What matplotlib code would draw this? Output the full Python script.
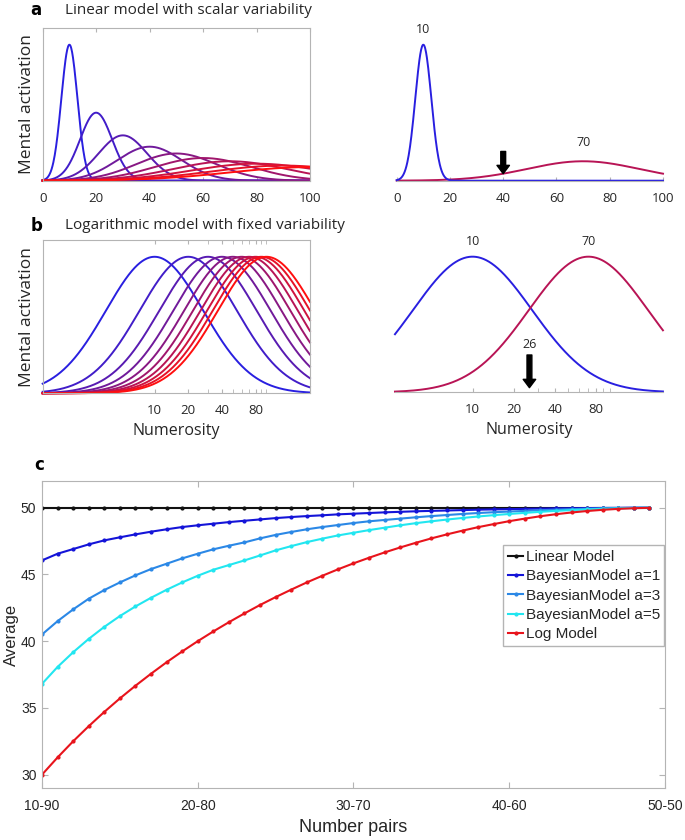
import matplotlib
matplotlib.use('Agg')
import matplotlib.pyplot as plt
import numpy as np

# ---- panels a / b : model parameters ----
numerosities = [10, 20, 30, 40, 50, 60, 70, 80, 90, 100]
weber_fraction = 0.3        # linear model, sd = w * n
log_sd = 1.0                # log model, sd in ln units
pair_shown = [10, 70]
probe_lin = 40
probe_log = 26
lin_ticks = [0, 20, 40, 60, 80, 100]
log_ticks = [10, 20, 40, 80]
log_minor = [10, 20, 30, 40, 50, 60, 70, 80, 90, 100]

# ---- panel c : average of the pair under each model ----
pair_low = list(range(10, 50))
pair_ticks = [10, 20, 30, 40, 50]
pair_labels = ['10-90', '20-80', '30-70', '40-60', '50-50']
avg_linear = [50.0] * 40
avg_bayes_a1 = [46.05, 46.55, 46.90, 47.25, 47.55, 47.78, 48.00, 48.20, 48.38, 48.55,
                48.68, 48.80, 48.92, 49.02, 49.12, 49.22, 49.30, 49.37, 49.43, 49.50,
                49.55, 49.60, 49.65, 49.69, 49.73, 49.76, 49.79, 49.82, 49.85, 49.87,
                49.89, 49.91, 49.93, 49.95, 49.96, 49.97, 49.98, 49.99, 50.00, 50.00]
avg_bayes_a3 = [40.50, 41.50, 42.38, 43.18, 43.83, 44.40, 44.93, 45.40, 45.80, 46.20,
                46.55, 46.88, 47.15, 47.40, 47.70, 47.96, 48.18, 48.38, 48.55, 48.70,
                48.85, 48.98, 49.08, 49.18, 49.28, 49.37, 49.45, 49.53, 49.60, 49.66,
                49.71, 49.76, 49.81, 49.85, 49.89, 49.92, 49.95, 49.97, 49.99, 50.00]
avg_bayes_a5 = [36.80, 38.07, 39.17, 40.17, 41.07, 41.88, 42.60, 43.25, 43.85, 44.40,
                44.90, 45.35, 45.70, 46.05, 46.42, 46.80, 47.12, 47.42, 47.68, 47.92,
                48.12, 48.32, 48.50, 48.68, 48.84, 48.98, 49.11, 49.23, 49.34, 49.44,
                49.53, 49.61, 49.69, 49.76, 49.82, 49.87, 49.92, 49.95, 49.98, 50.00]
avg_log = [30.00, 31.29, 32.50, 33.63, 34.70, 35.71, 36.66, 37.56, 38.42, 39.23,
           40.00, 40.73, 41.42, 42.08, 42.71, 43.30, 43.86, 44.40, 44.90, 45.38,
           45.83, 46.25, 46.65, 47.02, 47.37, 47.70, 48.00, 48.28, 48.54, 48.77,
           48.99, 49.18, 49.36, 49.51, 49.64, 49.75, 49.84, 49.91, 49.96, 49.99]

series_c = [('Linear Model', avg_linear, '#111111'),
            ('BayesianModel a=1', avg_bayes_a1, '#1414d8'),
            ('BayesianModel a=3', avg_bayes_a3, '#2b88e6'),
            ('BayesianModel a=5', avg_bayes_a5, '#22e6f0'),
            ('Log Model', avg_log, '#e8141c')]

FRAME = '#b4b4b4'
TXT = '#262626'
plt.rcParams['font.family'] = ['Open Sans', 'DejaVu Sans']


def grad(i, n=10):
    t = i / (n - 1)
    c0 = np.array([0.16, 0.12, 0.88])
    c1 = np.array([1.0, 0.06, 0.06])
    return tuple(c0 + (c1 - c0) * t)


def lin_curve(x, m):
    return (10.0 / m) * np.exp(-0.5 * ((x - m) / (weber_fraction * m)) ** 2)


def log_curve(x, m):
    return np.exp(-0.5 * ((x - np.log(m)) / log_sd) ** 2)


fig = plt.figure(figsize=(6.85, 8.4), dpi=100)

# ------------------- a, left -------------------
ax = fig.add_axes([0.0623, 0.7849, 0.3902, 0.1818])
xs = np.linspace(0, 100, 600)
for i, m in enumerate(numerosities):
    ax.plot(xs, lin_curve(xs, m), color=grad(i), lw=1.4, clip_on=False)
ax.set_xlim(0, 100)
ax.set_ylim(0, 1.123)
ax.set_yticks([])
ax.set_xticks(lin_ticks)
ax.tick_params(axis='x', direction='in', length=3, color=FRAME, labelsize=9.5,
               labelcolor=TXT, top=True, pad=8)
for s in ax.spines.values():
    s.set_color(FRAME)
ax.set_ylabel('Mental activation', fontsize=12.5, color=TXT)
ax.yaxis.set_label_coords(-0.03, 0.5)

# ------------------- a, right -------------------
ax = fig.add_axes([0.5791, 0.7849, 0.3888, 0.1818])
ax.plot(xs, lin_curve(xs, pair_shown[1]), color=grad(6), lw=1.4, clip_on=False)
ax.plot(xs, lin_curve(xs, pair_shown[0]), color=grad(0), lw=1.4, clip_on=False)
ax.set_xlim(0, 100)
ax.set_ylim(0, 1.123)
ax.set_yticks([])
ax.set_xticks(lin_ticks)
ax.tick_params(axis='x', direction='in', length=3, color=FRAME, labelsize=9.5,
               labelcolor=TXT, pad=8)
for k in ['top', 'left', 'right']:
    ax.spines[k].set_visible(False)
ax.spines['bottom'].set_color(FRAME)
ax.text(pair_shown[0], 1.11, str(pair_shown[0]), ha='center', va='center',
        fontsize=9, color=TXT)
ax.text(pair_shown[1], 0.28, str(pair_shown[1]), ha='center', va='center',
        fontsize=9, color=TXT)
tip = lin_curve(np.array(probe_lin), pair_shown[1])
ax.annotate('', xy=(probe_lin, tip), xytext=(probe_lin, 0.215),
            arrowprops=dict(facecolor='black', edgecolor='black', width=3.5,
                            headwidth=9, headlength=6, shrink=0))

# ------------------- b, left -------------------
ax = fig.add_axes([0.0623, 0.5318, 0.3902, 0.1825])
xl = np.linspace(0, 5.5, 600)
for i, m in enumerate(numerosities):
    ax.plot(xl, log_curve(xl, m), color=grad(i), lw=1.4, clip_on=False)
ax.set_xlim(0, 5.5)
ax.set_ylim(0, 1.123)
ax.set_yticks([])
ax.set_xticks(np.log(log_ticks))
ax.set_xticklabels([str(v) for v in log_ticks])
ax.set_xticks(np.log(log_minor), minor=True)
ax.tick_params(axis='x', which='both', direction='in', length=3, color=FRAME,
               labelsize=9.5, labelcolor=TXT, top=True, pad=8)
for s in ax.spines.values():
    s.set_color(FRAME)
ax.set_ylabel('Mental activation', fontsize=12.5, color=TXT)
ax.yaxis.set_label_coords(-0.03, 0.5)
ax.set_xlabel('Numerosity', fontsize=11.5, color=TXT, labelpad=4)

# ------------------- b, right -------------------
ax = fig.add_axes([0.5766, 0.5330, 0.3912, 0.1813])
xr = np.linspace(1, 5.5, 600)
ax.plot(xr, log_curve(xr, pair_shown[0]), color=grad(0), lw=1.4, clip_on=False)
ax.plot(xr, log_curve(xr, pair_shown[1]), color=grad(6), lw=1.4, clip_on=False)
ax.set_xlim(1, 5.5)
ax.set_ylim(0, 1.123)
ax.set_yticks([])
ax.set_xticks(np.log(log_ticks))
ax.set_xticklabels([str(v) for v in log_ticks])
ax.set_xticks(np.log(log_minor), minor=True)
ax.tick_params(axis='x', which='both', direction='in', length=3, color=FRAME,
               labelsize=9.5, labelcolor=TXT, pad=8)
for k in ['top', 'left', 'right']:
    ax.spines[k].set_visible(False)
ax.spines['bottom'].set_color(FRAME)
for m in pair_shown:
    ax.text(np.log(m), 1.11, str(m), ha='center', va='center', fontsize=9, color=TXT)
ax.annotate('', xy=(np.log(probe_log), 0.034), xytext=(np.log(probe_log), 0.275),
            arrowprops=dict(facecolor='black', edgecolor='black', width=3.5,
                            headwidth=9, headlength=6, shrink=0))
ax.text(np.log(probe_log), 0.356, str(probe_log), ha='center', va='center',
        fontsize=9, color=TXT)
ax.set_xlabel('Numerosity', fontsize=11.5, color=TXT, labelpad=4)

# ------------------- panel titles -------------------
fig.text(0.044, 0.988, 'a', fontsize=12, fontweight='bold', family='DejaVu Sans',
         ha='left', va='center')
fig.text(0.095, 0.988, 'Linear model with scalar variability', fontsize=11,
         color=TXT, ha='left', va='center')
fig.text(0.044, 0.731, 'b', fontsize=12, fontweight='bold', family='DejaVu Sans',
         ha='left', va='center')
fig.text(0.095, 0.732, 'Logarithmic model with fixed variability', fontsize=11,
         color=TXT, ha='left', va='center')
fig.text(0.050, 0.446, 'c', fontsize=12, fontweight='bold', family='DejaVu Sans',
         ha='left', va='center')

# ------------------- c -------------------
narrow = ['Liberation Sans', 'DejaVu Sans']
ax = fig.add_axes([0.0613, 0.0619, 0.9095, 0.3655])
for name, vals, col in series_c:
    ax.plot(pair_low, vals, color=col, lw=1.5, marker='.', ms=4, label=name)
ax.set_xlim(10, 50)
ax.set_ylim(29, 52)
ax.set_xticks(pair_ticks)
ax.set_xticklabels(pair_labels)
ax.set_yticks([30, 35, 40, 45, 50])
ax.tick_params(direction='in', length=4, color=FRAME, labelcolor=TXT,
               top=True, right=True, labelsize=10)
ax.tick_params(axis='x', pad=8)
ax.tick_params(axis='y', pad=4)
for lab in ax.get_xticklabels() + ax.get_yticklabels():
    lab.set_family(narrow)
for s in ax.spines.values():
    s.set_color(FRAME)
ax.set_xlabel('Number pairs', fontsize=13, color=TXT, family=narrow, labelpad=4)
ax.set_ylabel('Average', fontsize=12, color=TXT, family=narrow)
ax.yaxis.set_label_coords(-0.037, 0.5)
leg = ax.legend(loc='upper right', bbox_to_anchor=(0.999, 0.79), borderaxespad=0,
                fancybox=False, framealpha=1, edgecolor=FRAME,
                handlelength=1.0, handletextpad=0.15, labelspacing=0.35,
                borderpad=0.3, prop={'family': narrow, 'size': 11})
for t in leg.get_texts():
    t.set_color(TXT)

fig.savefig('out.png', dpi=100)
